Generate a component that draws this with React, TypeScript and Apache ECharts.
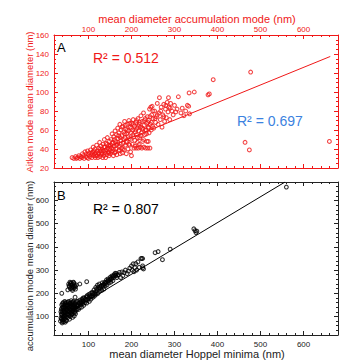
import React, { useEffect, useRef } from "react";
import * as echarts from "echarts";

// Tick values
const xMajorTicks = [100, 200, 300, 400, 500, 600];
const xMinorTicks = [20, 40, 60, 80, 100, 120, 140, 160, 180, 200, 220, 240, 260, 280, 300, 320, 340, 360, 380, 400, 420, 440, 460, 480, 500, 520, 540, 560, 580, 600, 620, 640, 660, 680];
const yAMajorTicks = [20, 40, 60, 80, 100, 120, 140, 160];
const yAMinorTicks = [20, 25, 30, 35, 40, 45, 50, 55, 60, 65, 70, 75, 80, 85, 90, 95, 100, 105, 110, 115, 120, 125, 130, 135, 140, 145, 150, 155, 160];
const yBMajorTicks = [100, 200, 300, 400, 500, 600];
const yBMinorTicks = xMinorTicks;

// Panel A: accumulation mode diameter (x) vs Aitken mode diameter (y)
const aitkenVsAccum = [
  [62, 31], [66, 30], [70, 32], [72, 30], [75, 31], [78, 33], [80, 30], [82, 32], [85, 31], [86, 35], [88, 33], [90, 30], [92, 37], [94, 32], [95, 35], [97, 31], [98, 38], [100, 34], [100, 30], [102, 36],
  [104, 32], [105, 39], [107, 34], [108, 31], [110, 37], [111, 42], [112, 33], [114, 35], [115, 40], [116, 31], [118, 36], [119, 44], [120, 33], [121, 38], [122, 31], [124, 41], [125, 35], [126, 47], [127, 32], [128, 38], [129, 43], [130, 34], [131, 36], [132, 40], [133, 31], [134, 45], [135, 38], [136, 33], [137, 50], [138, 42], [139, 36], [140, 31], [141, 46], [142, 39], [143, 34], [144, 52], [145, 41], [146, 37], [147, 44], [148, 33], [149, 48], [150, 39],
  [151, 35], [152, 44], [153, 50], [154, 41], [155, 56], [156, 38], [157, 47], [158, 33], [159, 53], [160, 43], [161, 36], [162, 59], [163, 48], [164, 40], [165, 55], [166, 34], [167, 45], [168, 62], [169, 51], [170, 38], [171, 57], [172, 43], [173, 66], [174, 35], [175, 49], [176, 60], [177, 41], [178, 54], [179, 36], [180, 64], [181, 46], [182, 58], [183, 39], [184, 69], [185, 52], [186, 44], [187, 61], [188, 35], [189, 56], [190, 48], [191, 66], [192, 40], [193, 59], [194, 70], [195, 51], [196, 44], [197, 63], [198, 37], [199, 57], [200, 33],
  [201, 67], [202, 45], [203, 60], [204, 71], [205, 53], [206, 41], [207, 64], [208, 49], [209, 58], [210, 68], [211, 41], [212, 55], [213, 62], [214, 47], [215, 72], [216, 41], [217, 59], [218, 66], [219, 52], [220, 42], [221, 63], [222, 75], [223, 57], [224, 41], [225, 69], [226, 48], [227, 61], [228, 78], [229, 42], [230, 65], [231, 55], [232, 72], [233, 41], [234, 60], [235, 67], [236, 48], [237, 74], [238, 41], [239, 63], [239, 48], [240, 70], [241, 57], [242, 82], [243, 41], [244, 66], [245, 84], [246, 60], [247, 76], [248, 85], [249, 64], [250, 72],
  [252, 62], [254, 80], [256, 68], [258, 74], [260, 88], [262, 66], [264, 78], [265, 94], [267, 71], [269, 84], [271, 63], [273, 76], [275, 87], [277, 69], [279, 82], [281, 73], [283, 89], [285, 79], [286, 94], [287, 84], [289, 71], [291, 88], [294, 80], [297, 76], [300, 86], [303, 79], [306, 82], [309, 95],
  [315, 78], [318, 83], [322, 75], [326, 80], [330, 86], [333, 85], [335, 77], [334, 99], [346, 100], [378, 97], [381, 98], [390, 113], [477, 121], [464, 47], [474, 39], [660, 48],
  [108, 36], [113, 38], [117, 33], [123, 36], [127, 40], [132, 35], [136, 42], [140, 38], [143, 45], [147, 36], [150, 43], [153, 37], [155, 46], [158, 40], [160, 50], [163, 37], [165, 44], [168, 47], [170, 54], [172, 39], [174, 52], [176, 45], [178, 63], [180, 40], [182, 50], [184, 56], [186, 65], [188, 47], [190, 60], [192, 53], [194, 45], [196, 67], [198, 50], [200, 62], [203, 55], [205, 66], [208, 43], [210, 60], [212, 70], [214, 52], [216, 64], [218, 45], [220, 68], [222, 54], [225, 62], [228, 50], [230, 70], [232, 60], [235, 56], [238, 68], [240, 62], [243, 74], [246, 68], [250, 80], [255, 72], [260, 76], [268, 80], [275, 74], [280, 86], [290, 83],
];
const fitA = [[130, 39], [662, 137.4]];

// Panel B: Hoppel minima diameter (x) vs accumulation mode diameter (y)
const accumVsHoppel = [
  [35, 80], [36, 95], [37, 110], [37, 130], [38, 150], [38, 88], [39, 72], [39, 120], [40, 140], [40, 100], [41, 160], [41, 85], [42, 115], [42, 135], [43, 78], [43, 150], [44, 105], [44, 125], [45, 92], [45, 165], [46, 140], [46, 75], [47, 118], [47, 155], [48, 98], [48, 130], [49, 145], [49, 82], [50, 110], [50, 160],
  [51, 125], [52, 95], [52, 150], [53, 135], [54, 105], [54, 165], [55, 120], [56, 88], [56, 145], [57, 130], [58, 158], [58, 100], [59, 115], [60, 140], [60, 168], [61, 108], [62, 128], [62, 150], [63, 96], [64, 138], [64, 160], [65, 118], [66, 145], [67, 102], [67, 130], [68, 155], [69, 122], [70, 140], [70, 112],
  [52, 215], [54, 240], [56, 228], [57, 248], [58, 220], [59, 235], [60, 245], [61, 225], [62, 238], [63, 212], [64, 230], [65, 248], [66, 222], [67, 240], [68, 232], [70, 218], [72, 236], [38, 200], [69, 183], [80, 240], [96, 250],
  [72, 150], [74, 132], [75, 165], [76, 145], [78, 158], [79, 138], [80, 170], [82, 150], [83, 162], [84, 140], [85, 175], [87, 155], [88, 168], [89, 148], [90, 180], [92, 160], [93, 172], [95, 185], [96, 158], [97, 190], [98, 170], [100, 178], [101, 195], [102, 165], [104, 185], [105, 200], [106, 175], [108, 190], [109, 205], [110, 182], [112, 198], [113, 215], [114, 188], [116, 205], [117, 225], [118, 195], [120, 210], [121, 235], [122, 200], [124, 218], [125, 240], [126, 208], [128, 222], [130, 232], [131, 212], [132, 245], [134, 228], [135, 238], [136, 218], [138, 248], [139, 232], [140, 242], [142, 258], [143, 236], [145, 252], [146, 262], [148, 245], [150, 258], [151, 270], [152, 248], [154, 262], [155, 275], [157, 255], [158, 268], [160, 280], [162, 286], [163, 275], [165, 285], [166, 268], [168, 278],
  [172, 290], [175, 268], [178, 292], [180, 276], [183, 289], [186, 300], [190, 285], [193, 296], [196, 308], [200, 318], [202, 300], [204, 327], [206, 293], [208, 310], [210, 328], [212, 300], [215, 335], [218, 312], [222, 350], [224, 350], [226, 350], [226, 318], [226, 310], [228, 305],
  [255, 375], [262, 380], [272, 345], [290, 390], [345, 478], [348, 470], [350, 462], [352, 468], [560, 658],
  [36, 120], [37, 90], [38, 135], [39, 108], [40, 155], [40, 78], [41, 128], [42, 96], [43, 140], [44, 88], [45, 118], [46, 160], [46, 102], [47, 135], [48, 84], [48, 150], [49, 112], [50, 128], [51, 145], [52, 108], [53, 160], [54, 125], [55, 140], [56, 110], [57, 155], [58, 130], [59, 148], [60, 120], [61, 160], [62, 110], [63, 142], [64, 125], [65, 165], [66, 135], [67, 150], [68, 118], [69, 140], [70, 160], [71, 128], [72, 165], [73, 142], [75, 150], [77, 130], [80, 158], [82, 165], [85, 158], [88, 180], [92, 175], [95, 170], [98, 185], [103, 190], [107, 185], [110, 200], [115, 198], [119, 218], [123, 225], [127, 230], [133, 235], [137, 240], [141, 248], [147, 255], [153, 265], [158, 275], [164, 278], [170, 280], [55, 232], [58, 242], [62, 218], [66, 245], [70, 228],
];
const fitB = [[35, 98], [557, 680]];

const RED = "#f01818";
const BLUE = "#3b82e0";
const DARK = "#222";
const FONT = "Liberation Sans, Arial, sans-serif";

function axis(opts: any) {
  const { grid, position, min, max, ticks, len, color, line, labels, margin } = opts;
  return {
    type: "value",
    gridIndex: grid,
    position,
    min,
    max,
    axisLine: { show: !!line, lineStyle: { color, width: 1 } },
    axisTick: { show: true, inside: true, length: len, customValues: ticks, lineStyle: { color, width: 1 } },
    axisLabel: labels
      ? { show: true, customValues: ticks, color, fontSize: 8, fontFamily: FONT, margin }
      : { show: false },
    splitLine: { show: false },
    minorTick: { show: false },
  };
}

export default function App() {
  const ref = useRef<HTMLDivElement>(null);
  useEffect(() => {
    if (!ref.current) return;
    const chart = echarts.init(ref.current, null, { renderer: "svg" });
    const option: any = {
      animation: false,
      backgroundColor: "#fff",
      grid: [
        { left: 54, right: 1, top: 35, height: 133 },
        { left: 54, right: 1, top: 182, height: 153 },
      ],
      xAxis: [
        axis({ grid: 0, position: "top", min: 20, max: 680, ticks: xMajorTicks, len: 4, color: RED, line: true, labels: true, margin: 2 }),
        axis({ grid: 0, position: "top", min: 20, max: 680, ticks: xMinorTicks, len: 2, color: RED }),
        axis({ grid: 0, position: "bottom", min: 20, max: 680, ticks: xMajorTicks, len: 4, color: RED, line: true }),
        axis({ grid: 0, position: "bottom", min: 20, max: 680, ticks: xMinorTicks, len: 2, color: RED }),
        axis({ grid: 1, position: "bottom", min: 20, max: 680, ticks: xMajorTicks, len: 4, color: DARK, line: true, labels: true, margin: 5 }),
        axis({ grid: 1, position: "bottom", min: 20, max: 680, ticks: xMinorTicks, len: 2, color: DARK }),
        axis({ grid: 1, position: "top", min: 20, max: 680, ticks: xMajorTicks, len: 4, color: DARK, line: true }),
        axis({ grid: 1, position: "top", min: 20, max: 680, ticks: xMinorTicks, len: 2, color: DARK }),
      ],
      yAxis: [
        axis({ grid: 0, position: "left", min: 20, max: 160, ticks: yAMajorTicks, len: 4, color: RED, line: true, labels: true, margin: 5 }),
        axis({ grid: 0, position: "left", min: 20, max: 160, ticks: yAMinorTicks, len: 2, color: RED }),
        axis({ grid: 0, position: "right", min: 20, max: 160, ticks: yAMajorTicks, len: 4, color: RED, line: true }),
        axis({ grid: 0, position: "right", min: 20, max: 160, ticks: yAMinorTicks, len: 2, color: RED }),
        axis({ grid: 1, position: "left", min: 20, max: 680, ticks: yBMajorTicks, len: 4, color: DARK, line: true, labels: true, margin: 5 }),
        axis({ grid: 1, position: "left", min: 20, max: 680, ticks: yBMinorTicks, len: 2, color: DARK }),
        axis({ grid: 1, position: "right", min: 20, max: 680, ticks: yBMajorTicks, len: 4, color: DARK, line: true }),
        axis({ grid: 1, position: "right", min: 20, max: 680, ticks: yBMinorTicks, len: 2, color: DARK }),
      ],
      series: [
        {
          type: "scatter", xAxisIndex: 0, yAxisIndex: 0, data: aitkenVsAccum, symbol: "circle", symbolSize: 3.8, silent: true,
          itemStyle: { color: "transparent", borderColor: RED, borderWidth: 1.1 },
        },
        {
          type: "line", xAxisIndex: 0, yAxisIndex: 0, data: fitA, symbol: "none", silent: true,
          lineStyle: { color: RED, width: 1 },
        },
        {
          type: "scatter", xAxisIndex: 4, yAxisIndex: 4, data: accumVsHoppel, symbol: "circle", symbolSize: 3.8, silent: true,
          itemStyle: { color: "transparent", borderColor: "#000", borderWidth: 1.1 },
        },
        {
          type: "line", xAxisIndex: 4, yAxisIndex: 4, data: fitB, symbol: "none", silent: true,
          lineStyle: { color: "#000", width: 1 },
        },
      ],
      graphic: [
        { type: "text", x: 197, y: 19, style: { text: "mean diameter accumulation mode (nm)", fill: RED, font: `11px ${FONT}`, align: "center", verticalAlign: "middle" } },
        { type: "text", x: 29, y: 102, rotation: Math.PI / 2, style: { text: "Aitken mode mean diameter (nm)", fill: RED, font: `9.5px ${FONT}`, align: "center", verticalAlign: "middle" } },
        { type: "text", x: 29, y: 266, rotation: Math.PI / 2, style: { text: "accumulation mode mean diameter (nm)", fill: DARK, font: `9.5px ${FONT}`, align: "center", verticalAlign: "middle" } },
        { type: "text", x: 197, y: 354, style: { text: "mean diameter Hoppel minima (nm)", fill: DARK, font: `11px ${FONT}`, align: "center", verticalAlign: "middle" } },
        { type: "text", x: 57, y: 47, style: { text: "A", fill: "#000", font: `13px ${FONT}`, align: "left", verticalAlign: "middle" } },
        { type: "text", x: 57, y: 195, style: { text: "B", fill: "#000", font: `13px ${FONT}`, align: "left", verticalAlign: "middle" } },
        { type: "text", x: 93, y: 58, style: { text: "R² = 0.512", fill: RED, font: `14px ${FONT}`, align: "left", verticalAlign: "middle" } },
        { type: "text", x: 237, y: 121, style: { text: "R² = 0.697", fill: BLUE, font: `14px ${FONT}`, align: "left", verticalAlign: "middle" } },
        { type: "text", x: 93, y: 209, style: { text: "R² = 0.807", fill: "#000", font: `14px ${FONT}`, align: "left", verticalAlign: "middle" } },
      ],
    };
    chart.setOption(option);
    return () => chart.dispose();
  }, []);
  return (
    <div
      ref={ref}
      style={{ position: "fixed", left: 0, top: 0, width: 339, height: 360, background: "#fff" }}
    />
  );
}
